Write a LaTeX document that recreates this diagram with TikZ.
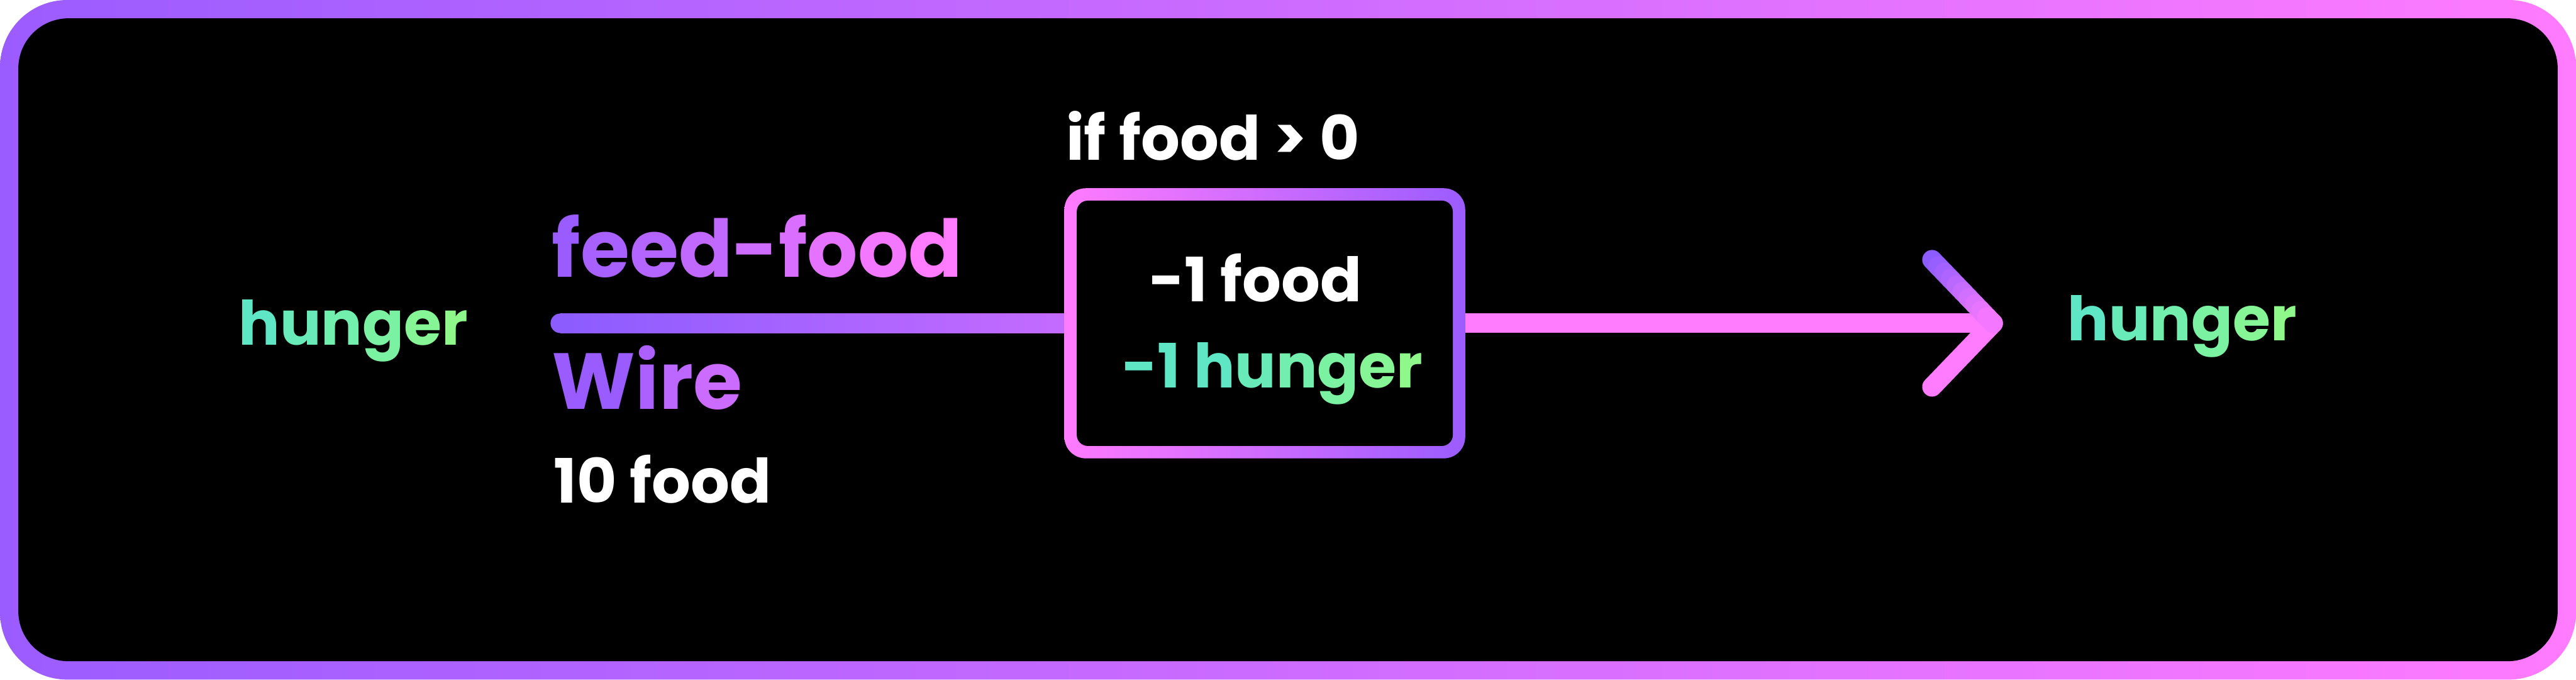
\documentclass[tikz,border=0pt]{standalone}
\usepackage{fontspec}
\setmainfont{Poppins}
\usetikzlibrary{calc}

\definecolor{framePurple}{HTML}{9B5CFF}
\definecolor{framePink}{HTML}{FF7BFF}
\definecolor{wireStart}{HTML}{8C5CFF}
\definecolor{wireEnd}{HTML}{C46BFF}
\definecolor{wireViolet}{HTML}{CC6CFF}
\definecolor{hungerTeal}{HTML}{5FE6C5}
\definecolor{hungerLime}{HTML}{8EF98A}

% letter by letter colour ramp
\makeatletter
\newcount\gradN \newcount\gradI
\newcommand\gradword[3]{%
  \gradN=0 \@tfor\gr@c:=#3\do{\advance\gradN by 1 }%
  \gradI=0 \@tfor\gr@c:=#3\do{%
    \pgfmathtruncatemacro\gr@p{100-100*\gradI/max(\gradN-1,1)}%
    \textcolor{#1!\gr@p!#2}{\gr@c}\advance\gradI by 1 }}
\makeatother

\tikzset{
  labelsm/.style={font=\fontsize{28.5}{34}\selectfont\bfseries, inner sep=0pt, anchor=base west},
  labelbig/.style={font=\fontsize{37}{44}\selectfont\bfseries, inner sep=0pt, anchor=base west},
  wire/.style={line width=0.32cm, line cap=round},
  gatebox/.style={minimum width=6.56cm, minimum height=4.42cm, inner sep=0pt,
    rounded corners=0.35cm, left color=framePink, right color=framePurple}
}

\begin{document}
\begin{tikzpicture}
  % frame
  \fill[white] (0,0) rectangle (42.16,-11.12);
  \shade[left color=framePurple, right color=framePink, rounded corners=1.1cm] (0,0) rectangle (42.16,-11.12);
  \fill[black, rounded corners=0.82cm] (0.3,-0.3) rectangle (41.86,-10.82);

  % gate
  \node[gatebox] (gate) at (20.70,-5.29) {};
  \fill[black, rounded corners=0.18cm] ($(gate.south west)+(0.21,0.21)$) rectangle ($(gate.north east)-(0.21,0.21)$);
  \node[labelsm, text=white] (gateCond) at (17.44,-2.62) {if food > 0};
  \node[labelsm, text=white] (gateFood) at (18.80,-4.94) {-1 food};
  \node[labelsm] (gateHunger) at (18.36,-6.35) {\textcolor{hungerTeal}{-1 }\gradword{hungerTeal}{hungerLime}{hunger}};

  % wire in
  \coordinate (wireIn) at (9.17,-5.29);
  \fill[wireStart] (wireIn) circle (0.16);
  \shade[left color=wireStart, right color=wireEnd] ($(wireIn)+(0,0.16)$) rectangle ($(gate.west)-(0,0.16)$);
  \node[labelbig] (wireName) at (9.03,-4.53) {\gradword{framePurple}{framePink}{feed-food}};
  \node[labelbig] (wireKind) at (9.03,-6.70) {\gradword{framePurple}{wireViolet}{Wire}};
  \node[labelsm, text=white] (wireValue) at (9.06,-8.23) {10 food};
  \node[labelsm] (hungerIn) at (3.90,-5.65) {\gradword{hungerTeal}{hungerLime}{hunger}};

  % wire out
  \coordinate (tip) at (32.62,-5.29);
  \coordinate (armT) at (31.62,-4.25);
  \coordinate (armB) at (31.62,-6.33);
  \draw[wire, line cap=butt, framePink] (gate.east) -- (tip);
  \draw[wire, framePink] (tip) -- (armB);
  \foreach \i in {0,...,9} {
    \pgfmathtruncatemacro\pc{100-10*\i}
    \draw[wire, wireStart!\pc!framePink] ($(armT)!\i/10!(tip)$) -- ($(armT)!{(\i+1)/10}!(tip)$);
  }
  \node[labelsm] (hungerOut) at (33.83,-5.57) {\gradword{hungerTeal}{hungerLime}{hunger}};
\end{tikzpicture}
\end{document}
